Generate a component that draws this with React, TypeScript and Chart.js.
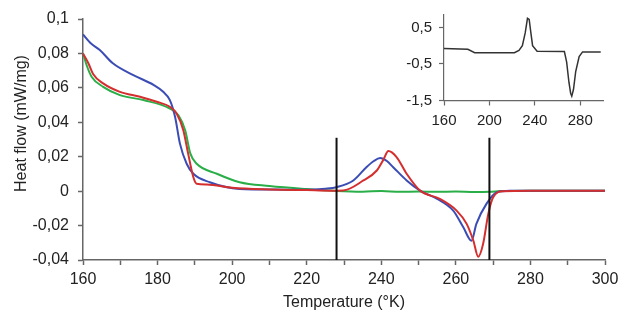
import React, { useEffect, useRef } from "react";
import { Chart, registerables } from "chart.js";

Chart.register(...registerables);

// ---- Data ----
const blueT = [160, 162, 164.5, 168, 173.5, 179, 181.5, 183.3, 184.7, 186, 187.8, 189.6, 194, 202, 212, 220, 225, 228, 232.5, 236, 238, 239.7, 241.5, 243.2, 246.8, 250.4, 255, 259.3, 262, 264.2, 265.5, 268.2, 271, 275, 280, 290, 300];
const blueV = [0.091, 0.086, 0.082, 0.0743, 0.0674, 0.0616, 0.0577, 0.0529, 0.0431, 0.0276, 0.0159, 0.0101, 0.0052, 0.0013, 0.0009, 0.0008, 0.0014, 0.0023, 0.0062, 0.0139, 0.0175, 0.0192, 0.0175, 0.0139, 0.0062, 0.0003, -0.0045, -0.0113, -0.021, -0.0288, -0.019, -0.0074, -0.0006, 0.0002, 0.0003, 0.0002, 0.0003];

const redT = [160, 161.5, 162.7, 165.4, 169.9, 175.3, 179.8, 183.3, 185.1, 186.9, 188.2, 189.6, 190.5, 193.2, 200, 210, 220, 226, 229.8, 235.2, 238.8, 240.5, 241.9, 244.1, 246.8, 250.4, 255.7, 260.2, 262.9, 264.7, 266, 267.3, 268.7, 270, 272.7, 280, 290, 300];
const redV = [0.08, 0.074, 0.068, 0.0626, 0.0577, 0.0548, 0.0519, 0.049, 0.0451, 0.0354, 0.0218, 0.0081, 0.0043, 0.0039, 0.002, 0.001, 0.0006, 0.0003, 0.0004, 0.0062, 0.012, 0.018, 0.0233, 0.0198, 0.0101, 0.0003, -0.0045, -0.0113, -0.019, -0.0288, -0.0381, -0.0307, -0.0132, -0.0036, 0, 0.0003, 0.0002, 0.0003];

const greenT = [160, 161, 162.3, 165.4, 169.9, 176.2, 183.3, 185.6, 187.4, 188.8, 190.5, 195.9, 202, 210, 220, 228, 235, 240, 245, 250, 255, 260, 265, 269, 272, 280, 290, 300];
const greenV = [0.08, 0.073, 0.0665, 0.0606, 0.0558, 0.0529, 0.048, 0.0441, 0.0354, 0.0218, 0.0159, 0.0101, 0.0052, 0.003, 0.0012, 0.0001, -0.0003, 0.0001, -0.0004, -0.0002, -0.0004, -0.0002, -0.0005, -0.0004, 0.0001, 0.0003, 0.0002, 0.0003];

const markerT = [228, 269];
const markerRange = [-0.04, 0.031];

const xTicksMain = [160, 170, 180, 190, 200, 210, 220, 230, 240, 250, 260, 270, 280, 290, 300];
const yTicksMain = [-0.04, -0.02, 0, 0.02, 0.04, 0.06, 0.08, 0.1];

const insetT = [160, 181, 187, 222, 226, 229, 231.5, 233.5, 235, 236.5, 238, 242, 266, 268, 270, 271.5, 272.5, 274, 276, 279, 282, 298];
const insetV = [-0.08, -0.1, -0.19, -0.19, -0.13, 0.0, 0.35, 0.75, 0.72, 0.35, 0.0, -0.15, -0.16, -0.45, -1.0, -1.3, -1.38, -1.2, -0.7, -0.3, -0.17, -0.17];
const xTicksInset = [160, 200, 240, 280];
const yTicksInset = [-1.5, -0.5, 0.5];

const FONT = "'Liberation Sans', Arial, sans-serif";
const AXIS = "#666";
const TEXT = "#222";

const pts = (xs: number[], ys: number[]) => xs.map((x, i) => ({ x, y: ys[i] }));
const comma = (v: number) => {
  const n = Number(v.toFixed(2));
  return n === 0 ? "0" : String(n).replace(".", ",");
};

const yTitlePlugin = {
  id: "yTitle",
  afterDraw(chart: any) {
    const ctx = chart.ctx;
    ctx.save();
    ctx.translate(22, 123.5);
    ctx.rotate(-Math.PI / 2);
    ctx.font = `16px ${FONT}`;
    ctx.fillStyle = TEXT;
    ctx.textAlign = "center";
    ctx.textBaseline = "middle";
    ctx.fillText("Heat flow (mW/mg)", 0, 0);
    ctx.restore();
  },
};

export default function App() {
  const mainRef = useRef<HTMLCanvasElement>(null);
  const insetRef = useRef<HTMLCanvasElement>(null);

  useEffect(() => {
    const line = (label: string, data: any[], color: string, w = 2) => ({
      label,
      data,
      borderColor: color,
      backgroundColor: color,
      borderWidth: w,
      pointRadius: 0,
      fill: false,
      cubicInterpolationMode: "monotone" as const,
    });

    const main = new Chart(mainRef.current!, {
      type: "line",
      data: {
        datasets: [
          { ...line("m1", pts([markerT[0], markerT[0]], markerRange), "#111", 2), cubicInterpolationMode: "default" as any, tension: 0 },
          { ...line("m2", pts([markerT[1], markerT[1]], markerRange), "#111", 2), cubicInterpolationMode: "default" as any, tension: 0 },
          line("red", pts(redT, redV), "#d42e2e"),
          line("blue", pts(blueT, blueV), "#3b4db5"),
          line("green", pts(greenT, greenV), "#2aae48"),
        ],
      },
      options: {
        animation: false,
        responsive: false,
        layout: { padding: { top: 19, right: 13, left: 0, bottom: 0 } },
        plugins: { legend: { display: false }, tooltip: { enabled: false } },
        scales: {
          x: {
            type: "linear",
            min: 160,
            max: 300,
            afterFit: (s: any) => { s.height = 61; s.paddingLeft = 0; s.paddingRight = 0; },
            afterBuildTicks: (s: any) => { s.ticks = xTicksMain.map((v) => ({ value: v })); },
            ticks: {
              autoSkip: false,
              maxRotation: 0,
              padding: 5,
              color: TEXT,
              font: { family: FONT, size: 16 },
              callback: (v: any) => (Number(v) % 20 === 0 ? String(v) : ""),
            },
            grid: { drawOnChartArea: false, drawTicks: true, tickLength: 5, color: AXIS, tickWidth: 1.5 },
            border: { color: AXIS, width: 1.5 },
            title: { display: true, text: "Temperature (°K)", color: TEXT, font: { family: FONT, size: 16 }, padding: { top: 0, bottom: 9 } },
          },
          y: {
            type: "linear",
            min: -0.04,
            max: 0.1,
            afterFit: (s: any) => { s.width = 83; s.paddingTop = 0; s.paddingBottom = 0; },
            afterBuildTicks: (s: any) => { s.ticks = yTicksMain.map((v) => ({ value: v })); },
            ticks: {
              padding: 9,
              color: TEXT,
              font: { family: FONT, size: 16 },
              callback: (v: any) => comma(Number(v)),
            },
            grid: { drawOnChartArea: false, drawTicks: true, tickLength: 5, color: AXIS, tickWidth: 1.5 },
            border: { color: AXIS, width: 1.5 },
          },
        },
      },
      plugins: [yTitlePlugin],
    });

    const inset = new Chart(insetRef.current!, {
      type: "line",
      data: {
        datasets: [{ ...line("inset", pts(insetT, insetV), "#333", 1.5), cubicInterpolationMode: "default" as any, tension: 0 }],
      },
      options: {
        animation: false,
        responsive: false,
        layout: { padding: { top: 15, right: 15, left: 0, bottom: 0 } },
        plugins: { legend: { display: false }, tooltip: { enabled: false } },
        scales: {
          x: {
            type: "linear",
            min: 160,
            max: 300,
            afterFit: (s: any) => { s.height = 39.5; s.paddingLeft = 0; s.paddingRight = 0; },
            afterBuildTicks: (s: any) => { s.ticks = xTicksInset.map((v) => ({ value: v })); },
            ticks: { autoSkip: false, maxRotation: 0, padding: 6, color: TEXT, font: { family: FONT, size: 15 }, callback: (v: any) => String(v) },
            grid: { drawOnChartArea: false, drawTicks: true, tickLength: 5, color: AXIS, tickWidth: 1.2 },
            border: { color: AXIS, width: 1.2 },
          },
          y: {
            type: "linear",
            min: -1.5,
            max: 0.84,
            afterFit: (s: any) => { s.width = 64; s.paddingTop = 0; s.paddingBottom = 0; },
            afterBuildTicks: (s: any) => { s.ticks = yTicksInset.map((v) => ({ value: v })); },
            ticks: { padding: 7, color: TEXT, font: { family: FONT, size: 15 }, callback: (v: any) => String(v).replace(".", ",") },
            grid: { drawOnChartArea: false, drawTicks: true, tickLength: 5, color: AXIS, tickWidth: 1.2 },
            border: { color: AXIS, width: 1.2 },
          },
        },
      },
    });

    return () => {
      main.destroy();
      inset.destroy();
    };
  }, []);

  return (
    <div style={{ position: "fixed", left: 0, top: 0, width: 618, height: 321, background: "#fff" }}>
      <canvas ref={mainRef} width={618} height={321} style={{ position: "absolute", left: 0, top: 0, width: 618, height: 321 }} />
      <canvas ref={insetRef} width={238} height={140} style={{ position: "absolute", left: 380, top: 0, width: 238, height: 140 }} />
    </div>
  );
}
